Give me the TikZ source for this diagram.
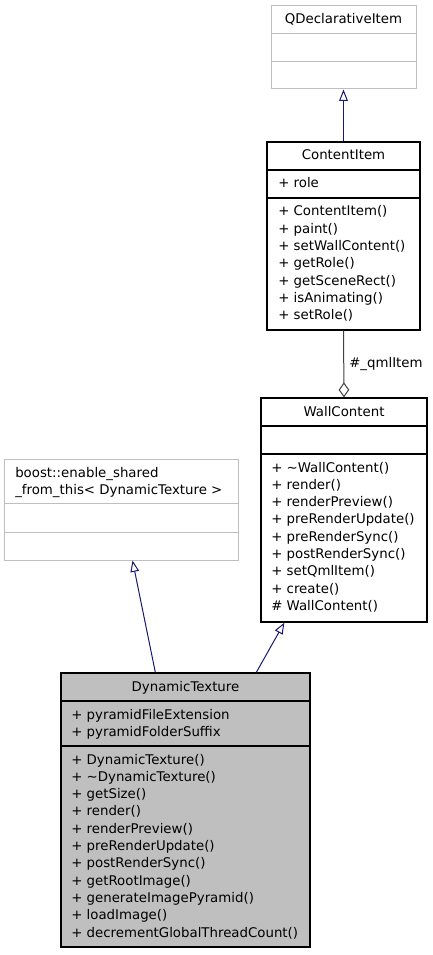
\documentclass[tikz,border=0pt]{standalone}
\usepackage{fontspec}
\setmainfont{DejaVu Sans}
\usetikzlibrary{calc,arrows.meta,fit}

\definecolor{navy}{HTML}{191970}
\definecolor{lightframe}{HTML}{BFBFBF}
\definecolor{aggrline}{HTML}{404040}
\definecolor{focusfill}{HTML}{BFBFBF}

\tikzset{
  strongbox/.style={draw=black, line width=1pt},
  weakbox/.style={draw=lightframe, line width=0.75pt},
  focusbox/.style={draw=black, line width=1pt, fill=focusfill},
  member/.style={anchor=base west, inner sep=0pt, font=\fontsize{10}{13}\selectfont},
  ctitle/.style={anchor=base, inner sep=0pt, font=\fontsize{10}{13}\selectfont},
  inherit/.style={draw=navy, line width=0.75pt,
    -{Triangle[open, length=8.5pt, width=6.5pt]}},
  aggregate/.style={draw=aggrline, line width=0.75pt,
    -{Diamond[open, length=11.25pt, width=8pt]}},
}

% frame of a class box: name, style, left, top, right, bottom
\newcommand\classframe[6]{%
  \node[#2, fit={(#3,#4) (#5,#6)}, inner sep=0pt] (#1) {};}
% separator line across a class box at a given height
\newcommand\classsep[3]{%
  \draw[#2] (#1.west |- 0,#3) -- (#1.east |- 0,#3);}

\begin{document}
\begin{tikzpicture}[x=0.75pt, y=-0.75pt]
\useasboundingbox (0,0) rectangle (432,955);

% QDeclarativeItem
\classframe{qd}{weakbox}{271}{6}{416}{89}
\classsep{qd}{weakbox}{34}
\classsep{qd}{weakbox}{62}
\node[ctitle] (qd-t) at (343.5,24) {QDeclarativeItem};

% ContentItem
\classframe{ci}{strongbox}{267}{142}{420}{330}
\classsep{ci}{strongbox}{170}
\classsep{ci}{strongbox}{198}
\node[ctitle] (ci-t) at (343.5,160) {ContentItem};
\node[member] (ci-a0) at (278,188) {+ role};
\foreach \t [count=\i from 0] in {+ ContentItem(), + paint(), + setWallContent(),
    + getRole(), + getSceneRect(), + isAnimating(), + setRole()}
  \node[member] (ci-m\i) at (278,216+17.3*\i) {\t};

% WallContent
\classframe{wc}{strongbox}{261}{398}{427}{622}
\classsep{wc}{strongbox}{426}
\classsep{wc}{strongbox}{454}
\node[ctitle] (wc-t) at (344,416) {WallContent};
\foreach \t [count=\i from 0] in {+ \textasciitilde WallContent(), + render(),
    + renderPreview(), + preRenderUpdate(), + preRenderSync(), + postRenderSync(),
    + setQmlItem(), + create(), \# WallContent()}
  \node[member] (wc-m\i) at (271,472+17.3*\i) {\t};

% boost::enable_shared_from_this
\classframe{bs}{weakbox}{4}{459}{238}{560}
\classsep{bs}{weakbox}{503}
\classsep{bs}{weakbox}{532}
\node[member] (bs-t1) at (15,477) {boost::enable\_shared};
\node[member] (bs-t2) at (15,494.3) {\_from\_this< DynamicTexture >};

% DynamicTexture
\classframe{dt}{focusbox}{61}{673}{310}{947}
\classsep{dt}{strongbox}{701}
\classsep{dt}{strongbox}{746}
\node[ctitle] (dt-t) at (185.5,691) {DynamicTexture};
\node[member] (dt-a0) at (71,719) {+ pyramidFileExtension};
\node[member] (dt-a1) at (71,736.3) {+ pyramidFolderSuffix};
\foreach \t [count=\i from 0] in {+ DynamicTexture(), + \textasciitilde DynamicTexture(),
    + getSize(), + render(), + renderPreview(), + preRenderUpdate(),
    + postRenderSync(), + getRootImage(), + generateImagePyramid(),
    + loadImage(), + decrementGlobalThreadCount()}
  \node[member] (dt-m\i) at (71,764+17.3*\i) {\t};

% relations
\draw[inherit] (ci.north) -- (qd.south);
\draw[aggregate] (ci.south) -- (wc.north);
\node[member] (agg-l) at (349,367) {\#\_qmlItem};
\draw[inherit] ($(dt.north west)+(95,0)$) -- ($(bs.south west)+(129,0)$);
\draw[inherit] ($(dt.north west)+(196,0)$) -- ($(wc.south west)+(24,0)$);
\end{tikzpicture}
\end{document}
